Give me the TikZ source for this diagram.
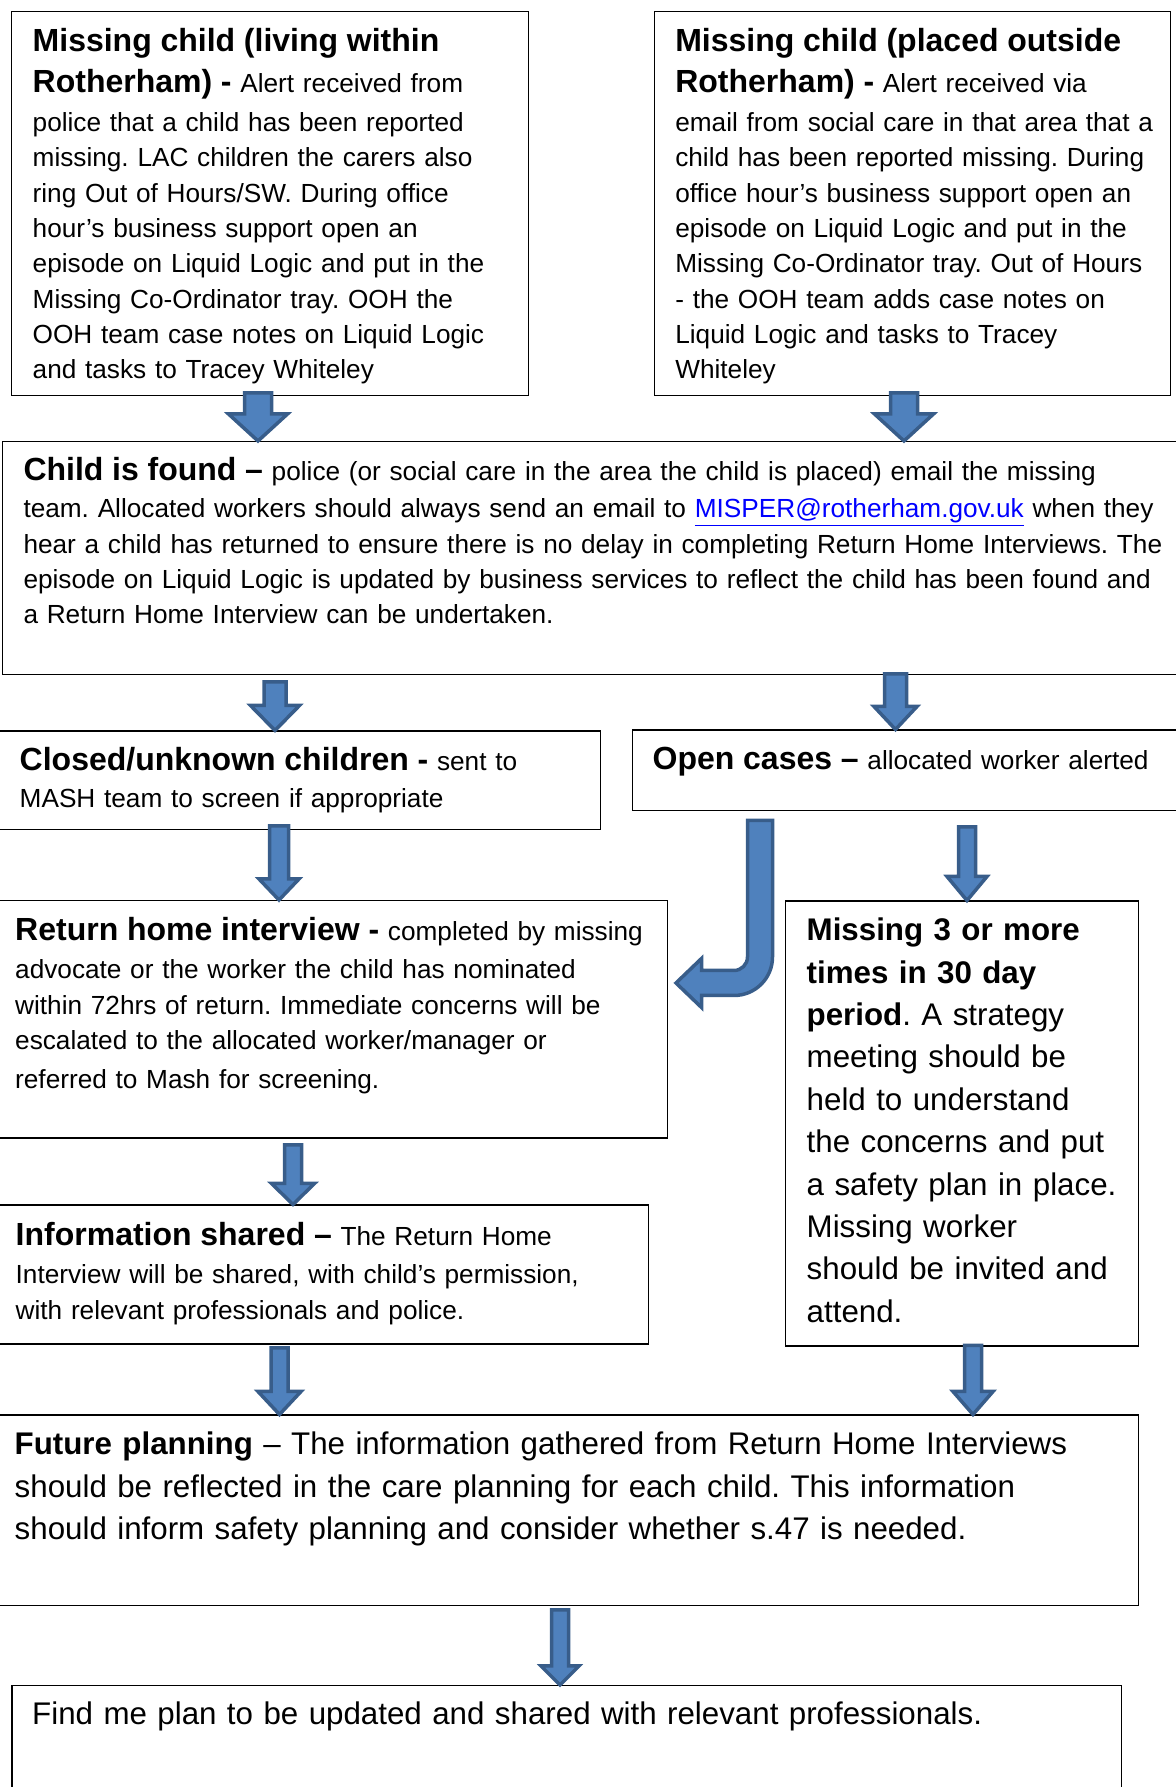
\documentclass[tikz,border=0pt]{standalone}
\usepackage{fontspec}
\setmainfont{Liberation Sans}
\usetikzlibrary{calc}
\definecolor{arrowfill}{HTML}{4F81BD}
\definecolor{arrowline}{HTML}{385D8A}
\definecolor{linkblue}{HTML}{0000FF}
\frenchspacing
\newcommand\titlebf{\fontsize{32bp}{41bp}\selectfont\bfseries}
\newcommand\mail[1]{\textcolor{linkblue}{\underline{#1}}}
% block arrow: tail, tip, shaft width, head width, head length
\newcommand\fatarrow[5]{%
  \filldraw[fatarrow] let \p1=(#1), \p2=(#2) in
    (\x1-#3/2,\y1) -- (\x1+#3/2,\y1) -- (\x1+#3/2,\y2+#5) -- (\x1+#4/2,\y2+#5)
    -- (\x1,\y2) -- (\x1-#4/2,\y2+#5) -- (\x1-#3/2,\y2+#5) -- cycle;}
\begin{document}
\begin{tikzpicture}[line join=miter,
  box/.style={draw,line width=1.4bp,anchor=north west,inner ysep=0pt,
    font=\fontsize{26.2bp}{35.3bp}\selectfont,
    execute at begin node={\rightskip=-80bp plus 1fil\relax}},
  bigbox/.style={box,font=\fontsize{31.3bp}{42.4bp}\selectfont},
  fatarrow/.style={fill=arrowfill,draw=arrowline,line width=3.5bp}]
\useasboundingbox (0,0) rectangle (1176bp,1787bp);
%%
\node (within) at (11bp,1776bp) [box,inner xsep=21bp,text width=475bp,text height=40bp,text depth=344bp]
  {{\titlebf Missing child (living within}\\[5.7bp]
   {\titlebf Rotherham) -} Alert received from\\[3.7bp]
   police that a child has been reported\\
   missing. LAC children the carers also\\
   ring Out of Hours/SW. During office\\
   hour’s business support open an\\
   episode on Liquid Logic and put in the\\
   Missing Co-Ordinator tray. OOH the\\
   OOH team case notes on Liquid Logic\\
   and tasks to Tracey Whiteley};
\node (outside) at (654bp,1776bp) [box,inner xsep=20.6bp,text width=474.8bp,text height=40bp,text depth=344bp]
  {{\titlebf Missing child (placed outside}\\[5.7bp]
   {\titlebf Rotherham) -} Alert received via\\[3.7bp]
   email from social care in that area that a\\
   child has been reported missing. During\\
   office hour’s business support open an\\
   episode on Liquid Logic and put in the\\
   Missing Co-Ordinator tray. Out of Hours\\
   - the OOH team adds case notes on\\
   Liquid Logic and tasks to Tracey\\
   Whiteley};
\node (found) at (2bp,1346bp) [box,inner xsep=20.8bp,text width=1156bp,text height=39bp,text depth=194bp]
  {{\titlebf Child is found –} police (or social care in the area the child is placed) email the missing\\[2bp]
   team. Allocated workers should always send an email to \mail{MISPER@rotherham.gov.uk} when they\\
   hear a child has returned to ensure there is no delay in completing Return Home Interviews. The\\
   episode on Liquid Logic is updated by business services to reflect the child has been found and\\
   a Return Home Interview can be undertaken.};
\node (closed) at (-2bp,1056.5bp) [box,inner xsep=21bp,text width=560bp,text height=39.5bp,text depth=59bp]
  {{\titlebf Closed/unknown children -} sent to\\[2bp]
   MASH team to screen if appropriate};
\node (open) at (632bp,1057.5bp) [box,inner xsep=20bp,text width=528bp,text height=39.8bp,text depth=40.7bp]
  {{\titlebf Open cases –} allocated worker alerted};
\node (return) at (-2bp,887bp) [box,inner xsep=16.5bp,text width=636bp,text height=40bp,text depth=197.5bp]
  {{\titlebf Return home interview -} completed by missing\\[3bp]
   advocate or the worker the child has nominated\\
   within 72hrs of return. Immediate concerns will be\\
   escalated to the allocated worker/manager or\\[3.3bp]
   referred to Mash for screening.};
\node (strategy) at (785bp,886.5bp) [bigbox,inner xsep=21bp,text width=311bp,text height=39.5bp,text depth=405.5bp]
  {\textbf{Missing 3 or more}\\
   \textbf{times in 30 day}\\
   \textbf{period}. A strategy\\
   meeting should be\\
   held to understand\\
   the concerns and put\\
   a safety plan in place.\\
   Missing worker\\
   should be invited and\\
   attend.};
\node (shared) at (-2bp,582.5bp) [box,inner xsep=17bp,text width=615.5bp,text height=40.5bp,text depth=98.5bp]
  {{\titlebf Information shared –} The Return Home\\[3bp]
   Interview will be shared, with child’s permission,\\
   with relevant professionals and police.};
\node (planning) at (-2bp,372.5bp) [bigbox,inner xsep=16bp,text width=1108bp,text height=39.8bp,text depth=150.7bp]
  {\textbf{Future planning} – The information gathered from Return Home Interviews\\
   should be reflected in the care planning for each child. This information\\
   should inform safety planning and consider whether s.47 is needed.};
\node (findme) at (11.3bp,102bp) [bigbox,inner xsep=20.2bp,text width=1069bp,text height=39bp,text depth=90bp]
  {Find me plan to be updated and shared with relevant professionals.};
%
\coordinate (a1) at (258bp,1394bp);
\coordinate (a2) at (904bp,1394bp);
\coordinate (a3) at (275bp,1105bp);
\coordinate (a4) at (895.5bp,1113bp);
\coordinate (a5) at (279bp,961bp);
\coordinate (a6) at (967bp,960bp);
\coordinate (a7) at (293bp,642bp);
\coordinate (a8) at (279.5bp,439bp);
\coordinate (a9) at (973bp,441.5bp);
\coordinate (a10) at (560bp,177bp);
\fatarrow{a1}{found.north -| a1}{27bp}{59bp}{27bp}
\fatarrow{a2}{found.north -| a2}{27bp}{59bp}{27bp}
\fatarrow{a3}{closed.north -| a3}{22bp}{49bp}{25bp}
\fatarrow{a4}{open.north -| a4}{22bp}{43bp}{23bp}
\fatarrow{a5}{return.north -| a5}{19bp}{40bp}{21bp}
\fatarrow{a6}{strategy.north -| a6}{17bp}{40bp}{24bp}
\fatarrow{a7}{shared.north -| a7}{17bp}{43bp}{21bp}
\fatarrow{a8}{planning.north -| a8}{17bp}{43bp}{23bp}
\fatarrow{a9}{planning.north -| a9}{17bp}{40bp}{23bp}
\fatarrow{a10}{findme.north -| a10}{17bp}{38bp}{19bp}
% bent arrow from open cases back to the interview
\filldraw[fatarrow] (747.5bp,966.5bp) -- (772.5bp,966.5bp) -- (772.5bp,830bp)
  arc[start angle=0,end angle=-90,radius=38.5bp] -- (701.5bp,791.5bp) -- (701.5bp,779.5bp)
  -- (676bp,804bp) -- (701.5bp,828.5bp) -- (701.5bp,816.5bp) -- (734bp,816.5bp)
  arc[start angle=-90,end angle=0,radius=13.5bp] -- cycle;
%
\end{tikzpicture}
\end{document}
